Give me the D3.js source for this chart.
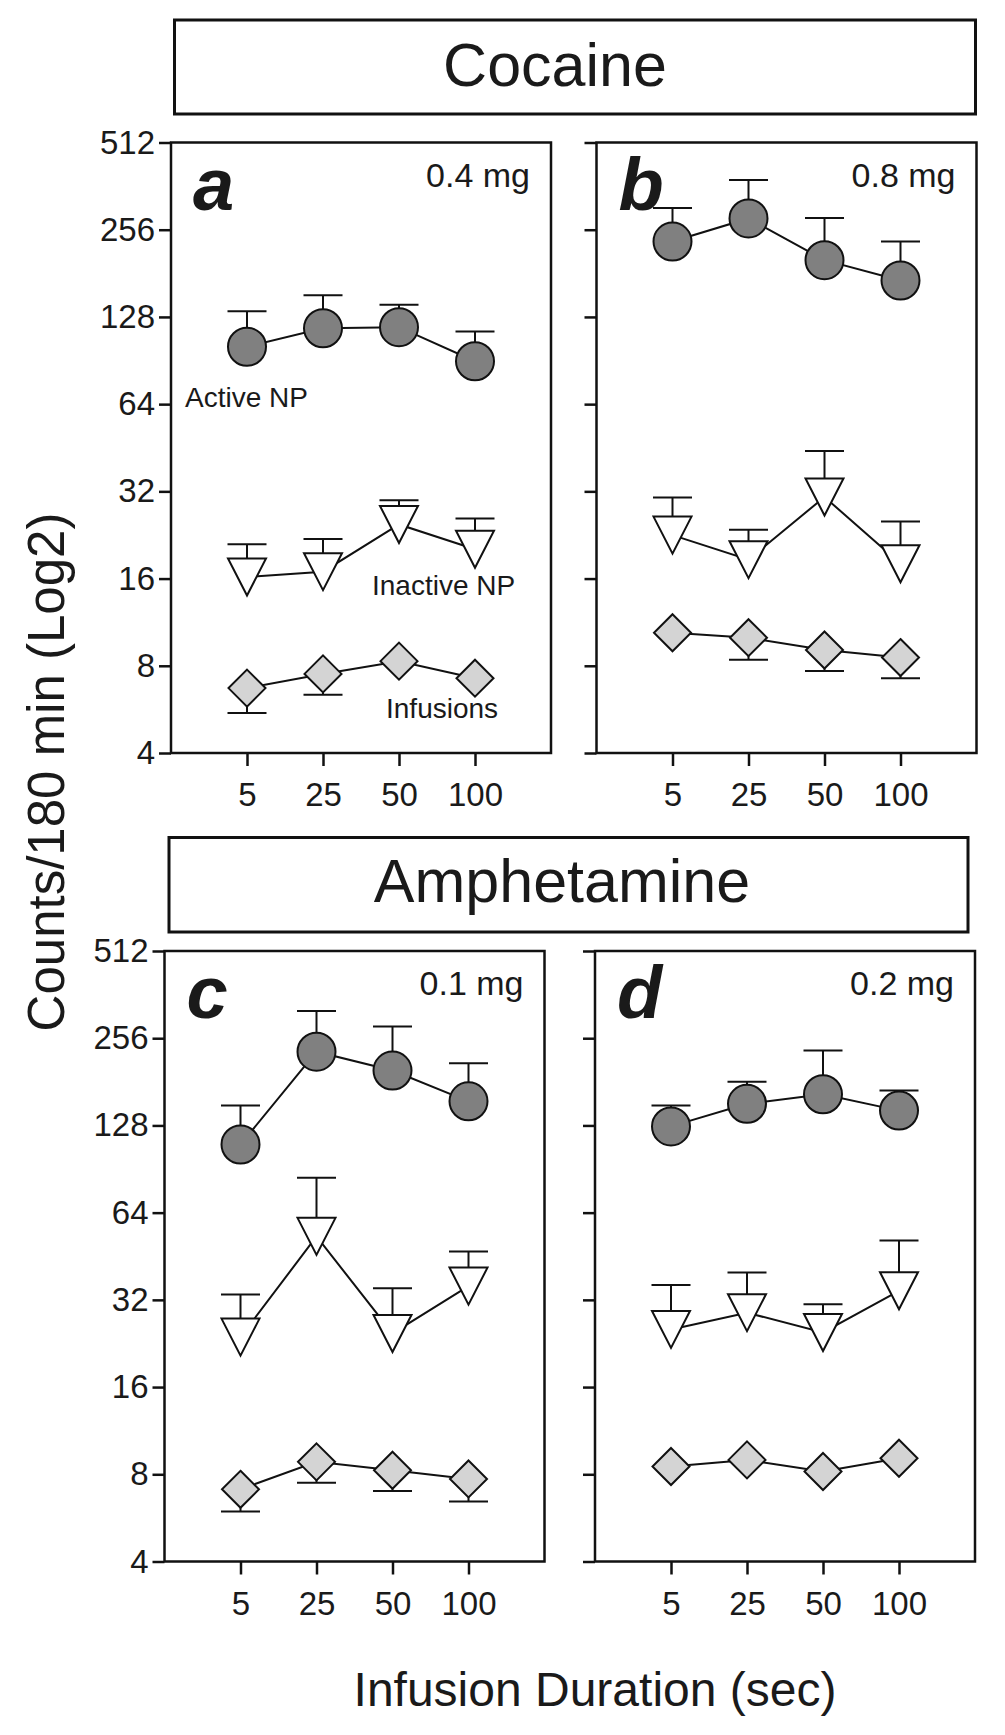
<!DOCTYPE html>
<html>
<head>
<meta charset="utf-8">
<script src="https://cdn.jsdelivr.net/npm/d3@7"></script>
<style>
  body { margin: 0; background: #fff; }
  text { font-family: "Liberation Sans", Arial, sans-serif; fill: #1a1a1a; }
</style>
</head>
<body>
<script>
// infusion durations (sec) and log2 y ticks
var durations = ['5', '25', '50', '100'];
var yTicks = [4, 8, 16, 32, 64, 128, 256, 512];

// a: cocaine 0.4 mg
var activeA = [101, 117, 118, 90];
var activeErrA = [33, 35, 23, 24];
var inactiveA = [16.2, 16.9, 24.6, 20.2];
var inactiveErrA = [4.8, 5.0, 5.2, 5.6];
var infusionsA = [6.7, 7.5, 8.3, 7.25];
var infusionsErrA = [1.2, 1.15, 0.5, 0.4];

// b: cocaine 0.8 mg
var activeB = [233, 280, 201, 171];
var activeErrB = [71, 100, 80, 62];
var inactiveB = [22.6, 18.6, 30.6, 18.0];
var inactiveErrB = [7.9, 5.0, 13.5, 7.2];
var infusionsB = [10.4, 10.0, 9.07, 8.54];
var infusionsErrB = [0.6, 1.6, 1.4, 1.3];

// c: amphetamine 0.1 mg
var activeC = [110, 230, 198, 155];
var activeErrC = [40, 88, 83, 55];
var inactiveC = [23.8, 53.0, 24.5, 35.7];
var inactiveErrC = [9.6, 31.4, 10.6, 11.3];
var infusionsC = [7.1, 8.83, 8.26, 7.71];
var infusionsErrC = [1.15, 1.35, 1.25, 1.26];

// d: amphetamine 0.2 mg
var activeD = [127, 152, 164, 144];
var activeErrD = [23, 29, 68, 25];
var inactiveD = [25.3, 28.9, 24.7, 34.4];
var inactiveErrD = [10.7, 10.9, 6.2, 16.9];
var infusionsD = [8.51, 8.97, 8.18, 9.09];
var infusionsErrD = [0.5, 0.5, 0.5, 0.5];

var W = 1005, H = 1735;
var pw = 380, ph = 610.5;

var panels = [
  {letter: 'a', dose: '0.4 mg', left: 171, top: 142.5, labels: true,
   active: activeA, activeErr: activeErrA, inactive: inactiveA, inactiveErr: inactiveErrA,
   infusions: infusionsA, infusionsErr: infusionsErrA},
  {letter: 'b', dose: '0.8 mg', left: 596.5, top: 142.5, labels: false,
   active: activeB, activeErr: activeErrB, inactive: inactiveB, inactiveErr: inactiveErrB,
   infusions: infusionsB, infusionsErr: infusionsErrB},
  {letter: 'c', dose: '0.1 mg', left: 164.5, top: 951, labels: true,
   active: activeC, activeErr: activeErrC, inactive: inactiveC, inactiveErr: inactiveErrC,
   infusions: infusionsC, infusionsErr: infusionsErrC},
  {letter: 'd', dose: '0.2 mg', left: 595, top: 951, labels: false,
   active: activeD, activeErr: activeErrD, inactive: inactiveD, inactiveErr: inactiveErrD,
   infusions: infusionsD, infusionsErr: infusionsErrD}
];

var svg = d3.select("body").append("svg")
    .attr("width", W)
    .attr("height", H);

svg.append("rect").attr("width", W).attr("height", H).attr("fill", "#fff");

// drug title boxes
function titleBox(x0, y0, x1, y1, label, cx, baseline) {
  svg.append("rect")
      .attr("x", x0).attr("y", y0)
      .attr("width", x1 - x0).attr("height", y1 - y0)
      .attr("fill", "none").attr("stroke", "#111").attr("stroke-width", 3);
  svg.append("text")
      .attr("x", cx).attr("y", baseline)
      .attr("text-anchor", "middle")
      .style("font-size", "61px")
      .text(label);
}
titleBox(174.5, 20, 975.5, 114, "Cocaine", 555, 86);
titleBox(169, 837.5, 968, 932, "Amphetamine", 562, 901.5);

var x = d3.scaleLinear().domain([0, 5]).range([0, pw]);
var y = d3.scaleLog().base(2).domain([4, 512]).range([ph, 0]);

// error bars shorter than the symbol are hidden behind it (as Prism does)
var minBar = 16;

var shapes = {
  active: function(g) { return g.append("circle").attr("r", 19).attr("fill", "#808080"); },
  inactive: function(g) {
    return g.append("path").attr("d", "M-19,-18.5L19,-18.5L0,18.5Z").attr("fill", "#fff");
  },
  infusions: function(g) {
    return g.append("path").attr("d", "M0,-18.5L18.5,0L0,18.5L-18.5,0Z").attr("fill", "#d4d4d4");
  }
};

panels.forEach(function(p) {
  var g = svg.append("g").attr("transform", "translate(" + p.left + "," + p.top + ")");

  // y axis
  var ya = g.append("g")
      .call(d3.axisLeft(y).tickValues(yTicks).tickSize(12).tickSizeOuter(0).tickPadding(4)
        .tickFormat(function(d) { return p.labels ? d3.format("d")(d) : ""; }));
  ya.select(".domain").remove();
  ya.selectAll("line").attr("stroke", "#111").attr("stroke-width", 2.5);
  ya.selectAll("text").style("font-size", "33px").attr("fill", "#1a1a1a");

  // x axis
  var xa = g.append("g")
      .attr("transform", "translate(0," + ph + ")")
      .call(d3.axisBottom(x).tickValues([1, 2, 3, 4]).tickSize(13).tickSizeOuter(0).tickPadding(17)
        .tickFormat(function(d) { return durations[d - 1]; }));
  xa.select(".domain").remove();
  xa.selectAll("line").attr("stroke", "#111").attr("stroke-width", 2.5);
  xa.selectAll("text").style("font-size", "33px").attr("fill", "#1a1a1a");

  // frame
  g.append("rect")
      .attr("width", pw).attr("height", ph)
      .attr("fill", "none").attr("stroke", "#111").attr("stroke-width", 2.5);

  var series = [
    {key: 'infusions', vals: p.infusions, err: p.infusionsErr, dir: -1},
    {key: 'inactive', vals: p.inactive, err: p.inactiveErr, dir: 1},
    {key: 'active', vals: p.active, err: p.activeErr, dir: 1}
  ];

  var line = d3.line()
      .x(function(d, i) { return x(i + 1); })
      .y(function(d) { return y(d); });

  series.forEach(function(s) {
    g.append("path")
        .datum(s.vals)
        .attr("d", line)
        .attr("fill", "none").attr("stroke", "#111").attr("stroke-width", 2);
  });

  series.forEach(function(s) {
    var eb = g.append("g");
    s.vals.forEach(function(v, i) {
      var end = y(v + s.dir * s.err[i]);
      var cx = x(i + 1);
      if (Math.abs(end - y(v)) < minBar) return;
      eb.append("line")
          .attr("x1", cx).attr("x2", cx)
          .attr("y1", y(v)).attr("y2", end)
          .attr("stroke", "#111").attr("stroke-width", 2);
      eb.append("line")
          .attr("x1", cx - 19.5).attr("x2", cx + 19.5)
          .attr("y1", end).attr("y2", end)
          .attr("stroke", "#111").attr("stroke-width", 2);
    });
    s.vals.forEach(function(v, i) {
      var m = g.append("g").attr("transform", "translate(" + x(i + 1) + "," + y(v) + ")");
      shapes[s.key](m).attr("stroke", "#111").attr("stroke-width", 2);
    });
  });

  // panel letter and dose
  g.append("text")
      .attr("x", 22).attr("y", 67)
      .style("font-size", "74px").style("font-weight", "bold").style("font-style", "italic")
      .attr("fill", "#111")
      .text(p.letter);
  g.append("text")
      .attr("x", pw - 21).attr("y", 44)
      .attr("text-anchor", "end")
      .style("font-size", "34px")
      .text(p.dose);

  if (p.letter === 'a') {
    g.append("text").attr("x", 14).attr("y", 264).style("font-size", "28px").text("Active NP");
    g.append("text").attr("x", 201).attr("y", 452).style("font-size", "28px").text("Inactive NP");
    g.append("text").attr("x", 215).attr("y", 575).style("font-size", "28px").text("Infusions");
  }
});

// axis titles
svg.append("text")
    .attr("transform", "translate(64,772) rotate(-90)")
    .attr("text-anchor", "middle")
    .style("font-size", "51px")
    .text("Counts/180 min (Log2)");

svg.append("text")
    .attr("x", 595).attr("y", 1706)
    .attr("text-anchor", "middle")
    .style("font-size", "48px")
    .text("Infusion Duration (sec)");
</script>
</body>
</html>
